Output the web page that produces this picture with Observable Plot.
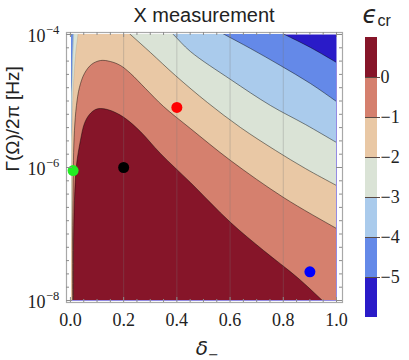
<!DOCTYPE html>
<html><head><meta charset="utf-8">
<script src="https://cdn.jsdelivr.net/npm/d3@7"></script>
<script src="https://cdn.jsdelivr.net/npm/@observablehq/plot@0.6"></script>
<style>
body{margin:0;background:#fff;}
#wrap{position:relative;width:409px;height:360px;overflow:hidden;}
#main{position:absolute;left:0;top:0;}
#leg{position:absolute;left:345px;top:0;}
</style></head><body><div id="wrap"><div id="main"></div><div id="leg"></div></div>
<script>
// ---- data: contour curves as [delta, log10(Gamma)] ----
const contour0 = [[0.0113,-8.3],[0.0113,-8.0],[0.0113,-7.25],[0.015,-6.5],[0.0226,-5.97],[0.0376,-5.594],[0.0526,-5.338],[0.0714,-5.203],[0.094,-5.128],[0.1128,-5.113],[0.139,-5.128],[0.169,-5.173],[0.207,-5.263],[0.263,-5.459],[0.338,-5.789],[0.451,-6.226],[0.602,-6.827],[0.726,-7.248],[0.853,-7.654],[0.947,-8.0],[0.974,-8.1]];
const contour1 = [[0.0075,-8.3],[0.0075,-8.0],[0.0075,-7.25],[0.0094,-6.5],[0.0113,-5.895],[0.015,-5.444],[0.0226,-5.068],[0.0338,-4.797],[0.0526,-4.586],[0.0789,-4.451],[0.1128,-4.391],[0.15,-4.406],[0.188,-4.466],[0.226,-4.586],[0.282,-4.812],[0.35,-5.083],[0.451,-5.414],[0.602,-5.895],[0.801,-6.451],[1.0,-6.917],[1.05,-7.03]];
const contour2Left = [[-0.003,-7.6],[0.004,-6.9],[0.0049,-5.9],[0.0075,-5.14],[0.0132,-4.62],[0.0207,-4.24],[0.0282,-4.0],[0.035,-3.7]];
const contour2Right = [[0.173,-3.81],[0.2256,-4.0],[0.3008,-4.271],[0.3947,-4.617],[0.515,-5.023],[0.639,-5.398],[0.771,-5.744],[0.883,-6.015],[1.0,-6.271],[1.05,-6.38]];
const contour3Left = [[-0.004,-5.8],[0.004,-5.44],[0.0045,-4.99],[0.0086,-4.39],[0.0124,-4.0],[0.014,-3.8]];
const contour3Right = [[0.349,-3.85],[0.387,-4.0],[0.451,-4.256],[0.602,-4.677],[0.752,-5.068],[0.883,-5.353],[1.0,-5.624],[1.05,-5.74]];
const contour4Left = [[-0.003,-5.1],[0.004,-4.77],[0.0056,-4.39],[0.0086,-4.0],[0.0095,-3.8]];
const contour4Right = [[0.52,-3.87],[0.579,-4.0],[0.677,-4.211],[0.789,-4.466],[0.902,-4.737],[1.0,-5.008],[1.05,-5.15]];
const contour5Right = [[0.761,-3.91],[0.805,-4.0],[0.902,-4.195],[1.0,-4.421],[1.05,-4.54]];

// markers
const markerX = [0.4, 0.2, 0.01, 0.9];
const markerY = [8e-6, 1e-6, 9e-7, 2.7e-8];

// ticks
const xMajor = [0, 0.2, 0.4, 0.6, 0.8, 1.0];
const xTickLabels = ["0.0","0.2","0.4","0.6","0.8","1.0"];
const yMajorExp = [-4, -6, -8];
const yExpLabels = ["\u22124","\u22126","\u22128"];

// legend
const legendLevels = [0, -1, -2, -3, -4, -5];
const legendLabels = ["0","\u22121","\u22122","\u22123","\u22124","\u22125"];
const bandLow = [0, -1, -2, -3, -4, -5, -6];

// ---- styles ----
const bandColors = ["#861529","#d5806e","#e9c8a5","#dae3d6","#aacbec","#6489e8","#2a1bc8"];
const markerColors = ["#ff0000","#000000","#22ee22","#0000ff"];
const textColor = "#222";
const tickColor = "#8c8c8c";

const X = p => p[0], Y = p => 10 ** p[1];
const regions = [
  {pts: [[-0.02,-8.3],[-0.02,-3.7],[0.4,-3.7], ...contour5Right, [1.05,-8.3]], fill: bandColors[5]},
  {pts: [[-0.02,-8.3], ...contour4Left, ...contour4Right, [1.05,-8.3]], fill: bandColors[4]},
  {pts: [[-0.02,-8.3], ...contour3Left, ...contour3Right, [1.05,-8.3]], fill: bandColors[3]},
  {pts: [[-0.02,-8.3], ...contour2Left, ...contour2Right, [1.05,-8.3]], fill: bandColors[2]},
  {pts: [...contour1, [1.05,-8.3]], fill: bandColors[1]},
  {pts: contour0, fill: bandColors[0]}
];
const mainLines = [contour0, contour1, contour2Right, contour3Right, contour4Right, contour5Right];
const edgeLines = [contour2Left, contour3Left, contour4Left];

const xMinor = d3.range(0, 1.0001, 0.05).filter(v => !xMajor.some(m => Math.abs(m - v) < 1e-6));
const yMinorExp = d3.range(-4, -8.0001, -0.2).filter(v => !yMajorExp.some(m => Math.abs(m - v) < 1e-6));

const serif = "'Liberation Serif', 'Times New Roman', serif";
const sans = "'Liberation Sans', Arial, sans-serif";
const greek = "'DejaVu Sans', sans-serif";

const marks = [
  Plot.frame({fill: bandColors[6], stroke: null}),
  ...regions.map(r => Plot.line(r.pts, {x: X, y: Y, fill: r.fill, stroke: "none", curve: "catmull-rom", clip: true})),
  Plot.ruleX([0.2, 0.4, 0.6, 0.8], {stroke: "#777", strokeOpacity: 0.3, strokeWidth: 1}),
  ...mainLines.map(c => Plot.line(c, {x: X, y: Y, stroke: "#000", strokeOpacity: 0.5, strokeWidth: 0.9, curve: "catmull-rom", clip: true})),
  ...edgeLines.map(c => Plot.line(c, {x: X, y: Y, stroke: "#000", strokeOpacity: 0.15, strokeWidth: 0.6, curve: "catmull-rom", clip: true})),
  Plot.dot(markerX.map((x, i) => i), {x: i => markerX[i], y: i => markerY[i], fill: i => markerColors[i], r: 5.5, stroke: "none"}),
  Plot.frame({stroke: "#a8a8a8", strokeWidth: 1.2, insetLeft: -5, insetRight: -6, insetTop: -2, insetBottom: -2}),
  // bottom & top ticks
  Plot.ruleX(xMinor, {stroke: tickColor, insetTop: 268 - 3, insetBottom: -2}),
  Plot.ruleX(xMajor, {stroke: tickColor, insetTop: 268 - 5, insetBottom: -2}),
  Plot.ruleX(xMinor, {stroke: tickColor, insetTop: -2, insetBottom: 268 - 3}),
  Plot.ruleX(xMajor, {stroke: tickColor, insetTop: -2, insetBottom: 268 - 5}),
  // left & right ticks
  Plot.ruleY(yMinorExp, {y: e => 10 ** e, stroke: tickColor, insetLeft: -5, insetRight: 270 - 3}),
  Plot.ruleY(yMajorExp, {y: e => 10 ** e, stroke: tickColor, insetLeft: -5, insetRight: 270 - 6}),
  Plot.ruleY(yMinorExp, {y: e => 10 ** e, stroke: tickColor, insetRight: -6, insetLeft: 271 - 3}),
  Plot.ruleY(yMajorExp, {y: e => 10 ** e, stroke: tickColor, insetRight: -6, insetLeft: 271 - 6}),
  // tick labels
  Plot.text(xMajor, {x: d => d, text: (d, i) => xTickLabels[i], frameAnchor: "bottom", lineAnchor: "bottom", dy: 25, fontSize: 18, fontFamily: serif, fill: textColor}),
  Plot.text(yMajorExp, {y: e => 10 ** e, text: () => "10", frameAnchor: "left", textAnchor: "end", lineAnchor: "bottom", dx: -26, dy: 7, fontSize: 18, fontFamily: serif, fill: textColor}),
  Plot.text(yMajorExp, {y: e => 10 ** e, text: (d, i) => yExpLabels[i], frameAnchor: "left", textAnchor: "start", lineAnchor: "bottom", dx: -25.5, dy: -1, fontSize: 12.5, fontFamily: serif, fill: textColor}),
  // titles
  Plot.text(["X measurement"], {frameAnchor: "top", lineAnchor: "bottom", dy: -13, fontSize: 20, fontFamily: sans, fill: textColor}),
  Plot.text(["\u0393(\u03A9)/2\u03C0 [Hz]"], {frameAnchor: "left", rotate: -90, dx: -59, dy: 4, fontSize: 19, fontFamily: sans, fill: textColor}),
  Plot.text(["\u03B4"], {frameAnchor: "bottom", textAnchor: "end", lineAnchor: "bottom", dx: 4, dy: 54, fontSize: 20, fontStyle: "italic", fontFamily: greek, fill: textColor}),
  Plot.text(["\u2212"], {frameAnchor: "bottom", textAnchor: "start", lineAnchor: "bottom", dx: 4, dy: 58, fontSize: 13, fontFamily: greek, fill: textColor})
];

const main = Plot.plot({
  width: 345, height: 360,
  marginLeft: 71, marginRight: 9, marginTop: 34, marginBottom: 60,
  x: {domain: [0.004, 1], axis: null},
  y: {type: "log", domain: [1e-8, 1e-4], axis: null},
  color: {type: "identity"},
  style: {background: "transparent", overflow: "visible", fontFamily: serif},
  marks
});
document.getElementById("main").appendChild(main);

const leg = Plot.plot({
  width: 64, height: 360,
  marginLeft: 20, marginRight: 32, marginTop: 37, marginBottom: 43,
  y: {domain: [-6, 1], axis: null},
  color: {type: "identity"},
  style: {background: "transparent", overflow: "visible", fontFamily: serif},
  marks: [
    Plot.rect(bandLow, {y1: d => d, y2: d => d + 1, fill: (d, i) => bandColors[i]}),
    Plot.ruleY(legendLevels, {stroke: "#5a4a44", strokeWidth: 1, insetRight: -3}),
    Plot.text(legendLevels, {y: d => d, text: (d, i) => legendLabels[i], frameAnchor: "right", textAnchor: "start", dx: 3, fontSize: 18, fontFamily: serif, fill: textColor}),
    Plot.text(["\u03F5"], {frameAnchor: "top-left", textAnchor: "start", lineAnchor: "bottom", dx: -3, dy: -15, fontSize: 24, fontStyle: "italic", fontFamily: greek, fill: textColor}),
    Plot.text(["cr"], {frameAnchor: "top-left", textAnchor: "start", lineAnchor: "bottom", dx: 12, dy: -12, fontSize: 16, fontFamily: sans, fill: textColor})
  ]
});
document.getElementById("leg").appendChild(leg);
</script></body></html>
